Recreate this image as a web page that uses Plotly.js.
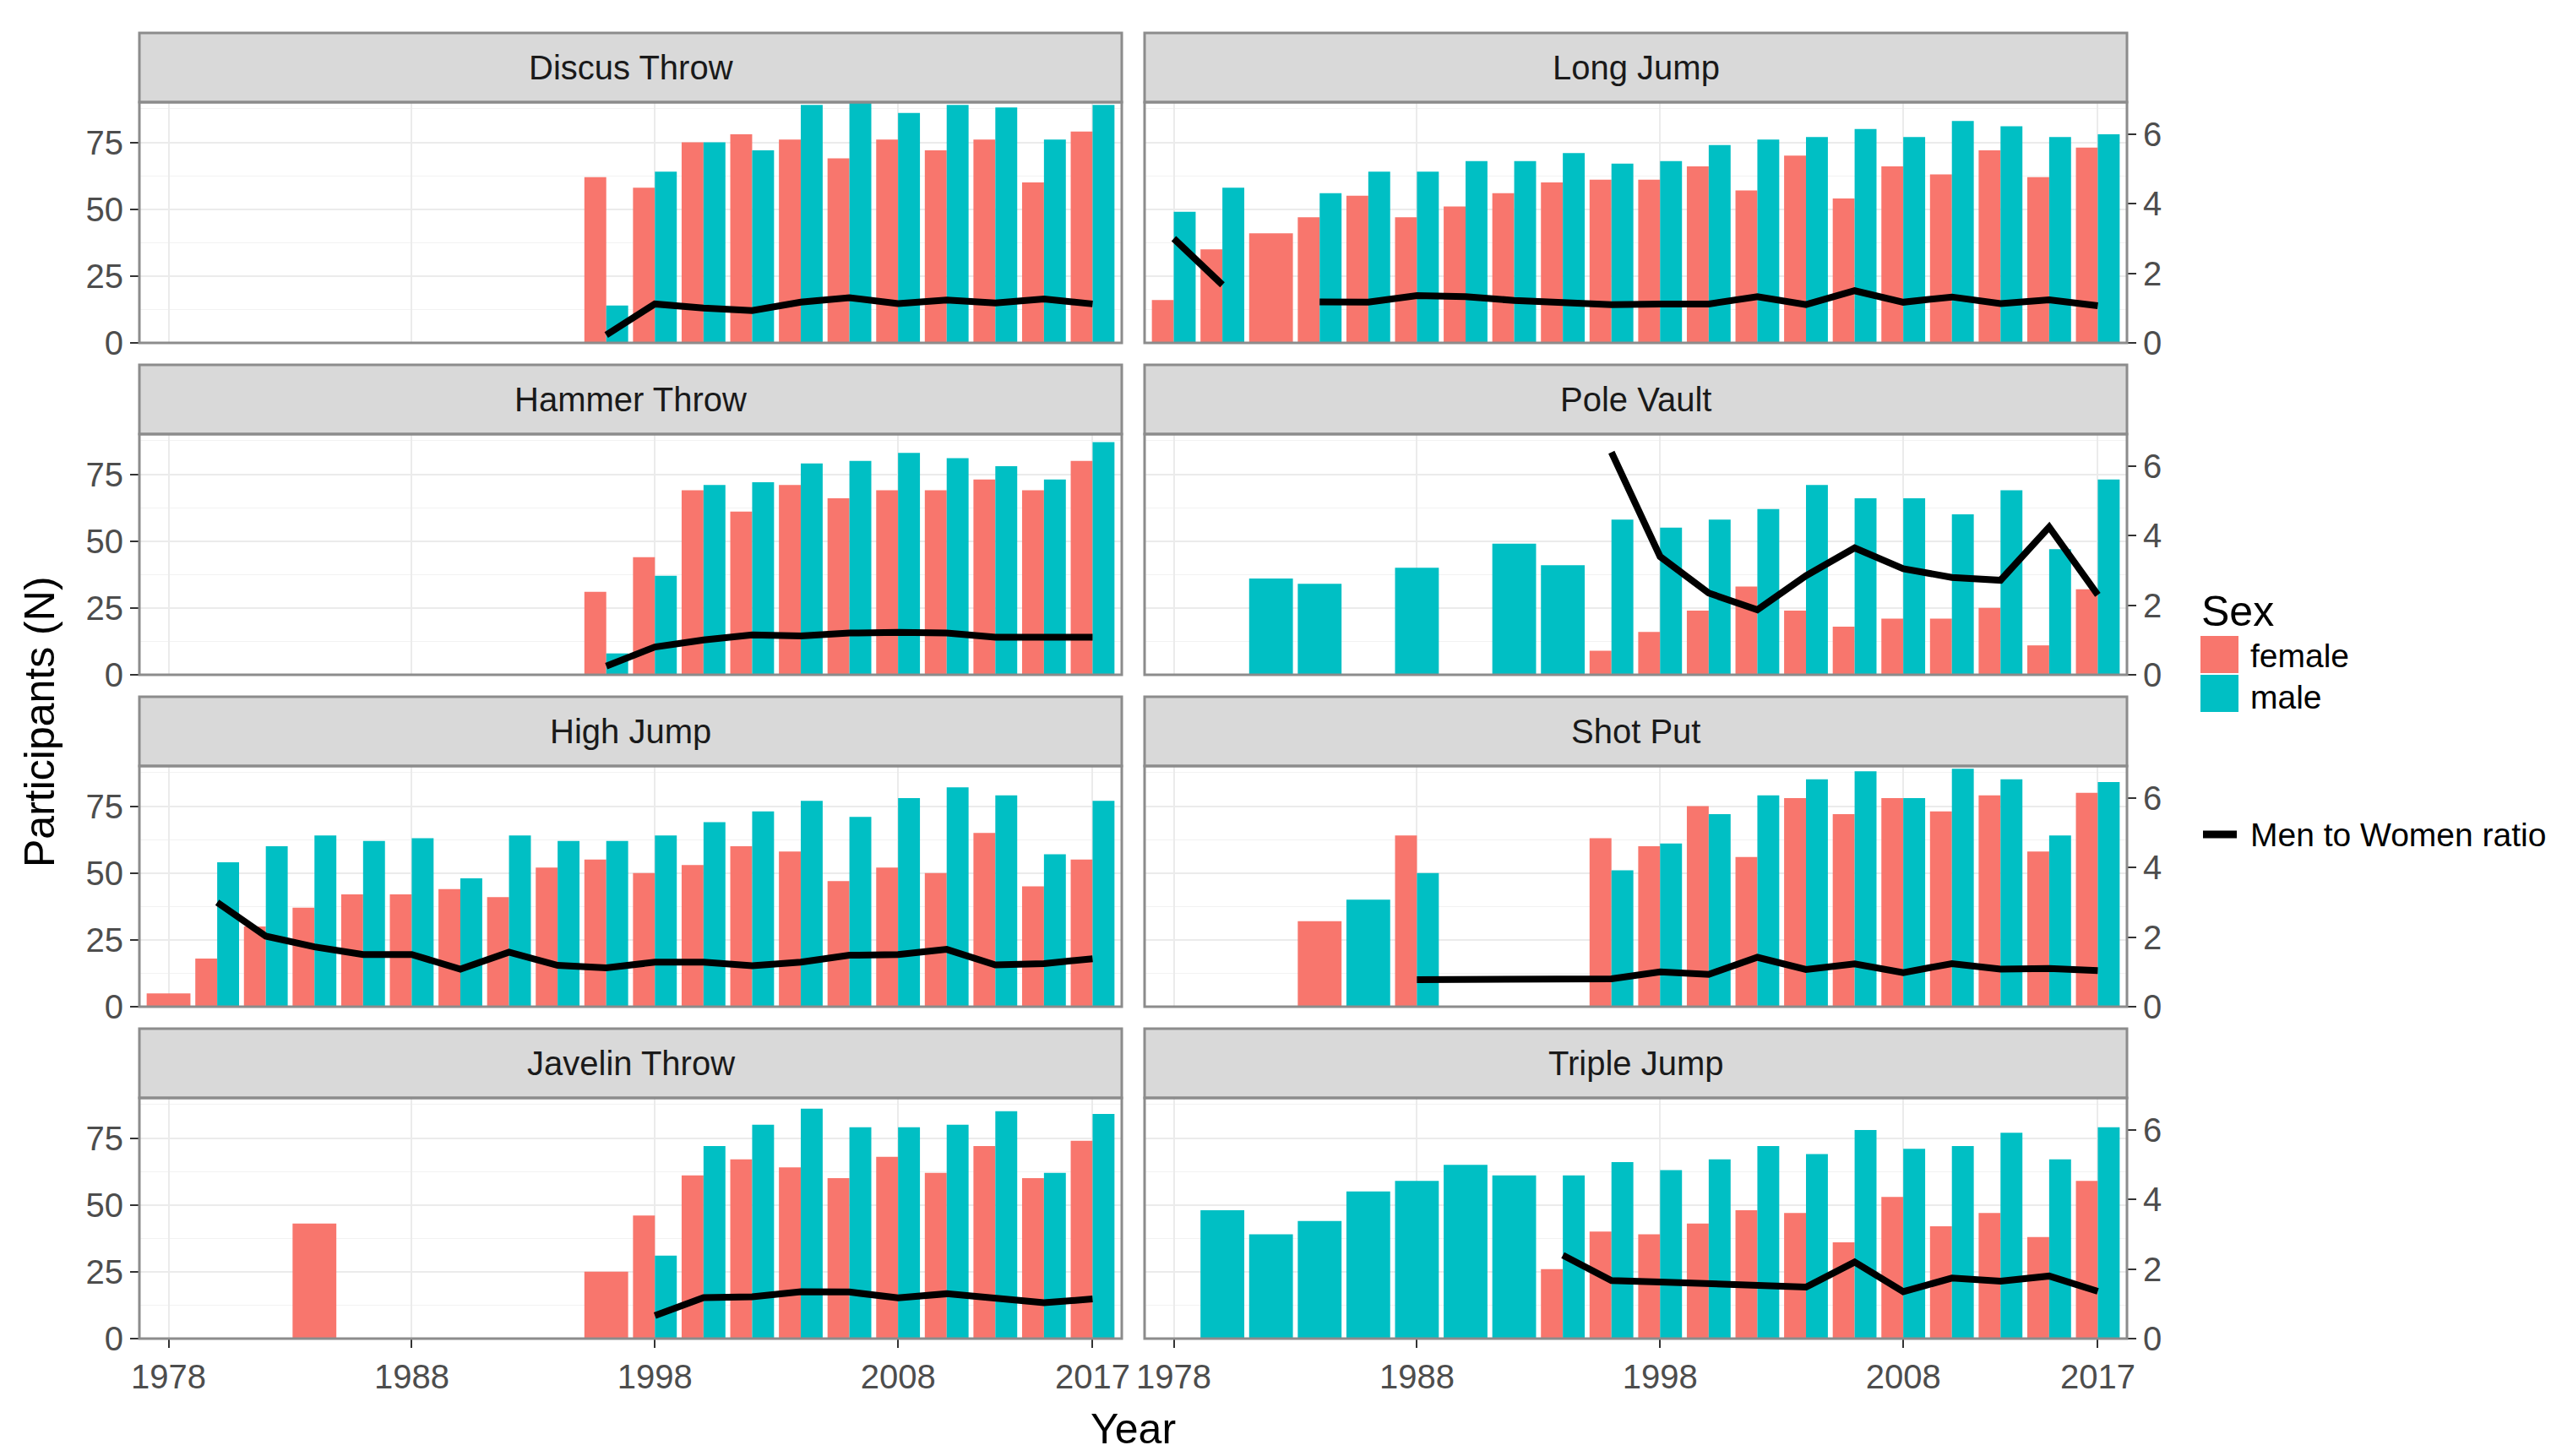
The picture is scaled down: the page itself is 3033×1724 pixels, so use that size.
<!DOCTYPE html>
<html>
<head>
<meta charset="utf-8">
<script src="https://cdn.plot.ly/plotly-3.0.1.min.js"></script>
<style>
body { margin: 0; background: #fff; }
#plot { width: 3033px; height: 1724px; }
</style>
</head>
<body>
<div id="plot"></div>
<script>
const N = null

// factor levels on the x axis (one slot per season)
const years = ['1978','1980','1982','1984','1986','1988','1990','1992','1994','1996',
               '1998','2000','2002','2004','2006','2008','2010','2012','2014','2017']
const yearTicks = ['1978','1988','1998','2008','2017']

// facet order (facet_wrap fills columns first)
const events = ['Discus Throw','Hammer Throw','High Jump','Javelin Throw',
                'Long Jump','Pole Vault','Shot Put','Triple Jump']

const discusFemale  = [N,N,N,N,N,N,N,N,N,62,58,75,78,76,69,76,72,76,60,79]
const discusMale    = [N,N,N,N,N,N,N,N,N,14,64,75,72,89,90,86,89,88,76,89]
const discusRatio   = [N,N,N,N,N,N,N,N,N,0.23,1.12,1.0,0.93,1.17,1.3,1.13,1.23,1.15,1.26,1.12]

const hammerFemale  = [N,N,N,N,N,N,N,N,N,31,44,69,61,71,66,69,69,73,69,80]
const hammerMale    = [N,N,N,N,N,N,N,N,N,8,37,71,72,79,80,83,81,78,73,87]
const hammerRatio   = [N,N,N,N,N,N,N,N,N,0.25,0.8,1.0,1.15,1.12,1.2,1.22,1.2,1.08,1.07,1.08]

const highFemale    = [5,18,30,37,42,42,44,41,52,55,50,53,60,58,47,52,50,65,45,55]
const highMale      = [N,54,60,64,62,63,48,64,62,62,64,69,73,77,71,78,82,79,57,77]
const highRatio     = [N,3.0,2.03,1.72,1.5,1.5,1.08,1.57,1.19,1.12,1.28,1.28,1.18,1.28,1.48,1.5,1.65,1.2,1.24,1.38]

const javelinFemale = [N,N,N,43,N,N,N,N,N,25,46,61,67,64,60,68,62,72,60,74]
const javelinMale   = [N,N,N,N,N,N,N,N,N,N,31,72,80,86,79,79,80,85,62,84]
const javelinRatio  = [N,N,N,N,N,N,N,N,N,N,0.66,1.18,1.2,1.35,1.34,1.17,1.29,1.16,1.03,1.14]

const longFemale    = [16,35,41,47,55,47,51,56,60,61,61,66,57,70,54,66,63,72,62,73]
const longMale      = [49,58,N,56,64,64,68,68,71,67,68,74,76,77,80,77,83,81,77,78]
const longRatio     = [3.0,1.67,N,1.18,1.17,1.36,1.33,1.22,1.18,1.1,1.12,1.12,1.33,1.1,1.5,1.17,1.32,1.13,1.24,1.07]

const poleFemale    = [N,N,N,N,N,N,N,N,N,9,16,24,33,24,18,21,21,25,11,32]
const poleMale      = [N,N,36,34,N,40,N,49,41,58,55,58,62,71,66,66,60,69,47,73]
const poleRatio     = [N,N,N,N,N,N,N,N,N,6.4,3.4,2.35,1.87,2.85,3.65,3.05,2.8,2.72,4.25,2.3]

const shotFemale    = [N,N,N,32,N,64,N,N,N,63,60,75,56,78,72,78,73,79,58,80]
const shotMale      = [N,N,N,N,40,50,N,N,N,51,61,72,79,85,88,78,89,85,64,84]
const shotRatio     = [N,N,N,N,N,0.78,N,N,N,0.8,1.0,0.93,1.42,1.07,1.23,0.98,1.24,1.08,1.1,1.04]

const tripleFemale  = [N,N,N,N,N,N,N,N,26,40,39,43,48,47,36,53,42,47,38,59]
const tripleMale    = [N,48,39,44,55,59,65,61,61,66,63,67,72,69,78,71,72,77,67,79]
const tripleRatio   = [N,N,N,N,N,N,N,N,2.4,1.67,1.63,1.58,1.52,1.48,2.2,1.35,1.74,1.65,1.8,1.36]

const femaleData = [discusFemale, hammerFemale, highFemale, javelinFemale, longFemale, poleFemale, shotFemale, tripleFemale]
const maleData   = [discusMale, hammerMale, highMale, javelinMale, longMale, poleMale, shotMale, tripleMale]
const ratioData  = [discusRatio, hammerRatio, highRatio, javelinRatio, longRatio, poleRatio, shotRatio, tripleRatio]

const ratioScale = 13   // sec_axis(~ . / 13)
const yMax = 90

const W = 3033, H = 1724
const colX = [[165, 1328], [1355, 2518]]
const rowTop = [39, 432, 825, 1218]
const stripH = 82, panelH = 285

const FONT = 'Liberation Sans, Arial, sans-serif'
const female_col = '#F8766D'
const male_col = '#00BFC4'

function px(x){ return x / W }
function py(y){ return 1 - y / H }

// ggplot style dodge: two bars share a slot, a lone bar takes the whole slot
function dodge(female, male){
    let out = {fx: [], fw: [], mx: [], mw: []}
    for (let i = 0; i < years.length; i++) {
        let both = female[i] != null && male[i] != null
        out.fx.push(both ? i - 0.225 : i)
        out.fw.push(both ? 0.45 : 0.9)
        out.mx.push(both ? i + 0.225 : i)
        out.mw.push(both ? 0.45 : 0.9)
    }
    return out
}

function label(x, y, text, size, opts){
    let a = {
        xref: 'paper', yref: 'paper', x: px(x), y: py(y),
        xanchor: 'center', yanchor: 'middle',
        text: text, showarrow: false,
        font: {size: size, color: '#000'}
    }
    return Object.assign(a, opts || {})
}

let traces = []
let layout = {
    width: W, height: H,
    margin: {l: 0, r: 0, t: 0, b: 0},
    paper_bgcolor: '#fff',
    plot_bgcolor: '#fff',
    showlegend: false,
    barmode: 'overlay',
    font: {family: FONT, size: 40, color: '#4d4d4d'},
    shapes: [],
    annotations: []
}

for (let p = 0; p < events.length; p++) {
    let c = Math.floor(p / 4)
    let r = p % 4
    let xid = p == 0 ? 'x' : 'x' + (p + 1)
    let ybar = p == 0 ? 'y' : 'y' + (2 * p + 1)
    let yrat = 'y' + (2 * p + 2)
    let xkey = p == 0 ? 'xaxis' : 'xaxis' + (p + 1)
    let ybarkey = p == 0 ? 'yaxis' : 'yaxis' + (2 * p + 1)
    let yratkey = 'yaxis' + (2 * p + 2)

    let top = rowTop[r] + stripH
    let bottom = top + panelH
    let x0 = colX[c][0], x1 = colX[c][1]

    let d = dodge(femaleData[p], maleData[p])
    traces.push({
        type: 'bar', x: d.fx, y: femaleData[p], width: d.fw,
        marker: {color: female_col, line: {width: 0}},
        xaxis: xid, yaxis: ybar, name: 'female'
    })
    traces.push({
        type: 'bar', x: d.mx, y: maleData[p], width: d.mw,
        marker: {color: male_col, line: {width: 0}},
        xaxis: xid, yaxis: ybar, name: 'male'
    })

    // ratio line: skip seasons with no rows at all, break where the ratio is missing
    let lx = [], ly = []
    for (let i = 0; i < years.length; i++) {
        if (femaleData[p][i] == null && maleData[p][i] == null) continue
        lx.push(i)
        ly.push(ratioData[p][i])
    }
    traces.push({
        type: 'scatter', mode: 'lines', x: lx, y: ly,
        line: {color: '#000', width: 8},
        connectgaps: false,
        xaxis: xid, yaxis: yrat, name: 'Men to Women ratio'
    })

    let bottomRow = r == 3
    layout[xkey] = {
        domain: [px(x0), px(x1)],
        anchor: ybar,
        range: [-0.6, years.length - 0.4],
        tickmode: 'array',
        tickvals: [0, 5, 10, 15, 19],
        ticktext: yearTicks,
        showticklabels: bottomRow,
        ticks: bottomRow ? 'outside' : '',
        ticklen: 10, tickwidth: 2, tickcolor: '#333',
        tickfont: {size: 40, color: '#4d4d4d'},
        showgrid: true, gridcolor: '#ebebeb', gridwidth: 2,
        zeroline: false, showline: false, fixedrange: true
    }
    layout[ybarkey] = {
        domain: [py(bottom), py(top)],
        anchor: xid,
        range: [0, yMax],
        tickmode: 'array',
        tickvals: [0, 25, 50, 75],
        showticklabels: c == 0,
        ticks: c == 0 ? 'outside' : '',
        ticklen: 10, tickwidth: 2, tickcolor: '#333',
        tickfont: {size: 40, color: '#4d4d4d'},
        showgrid: true, gridcolor: '#ebebeb', gridwidth: 2,
        minor: {tickmode: 'array', tickvals: [12.5, 37.5, 62.5, 87.5], showgrid: true,
                gridcolor: '#f2f2f2', gridwidth: 1, ticks: ''},
        zeroline: false, showline: false, fixedrange: true
    }
    layout[yratkey] = {
        overlaying: ybar,
        anchor: xid,
        side: 'right',
        range: [0, yMax / ratioScale],
        tickmode: 'array',
        tickvals: [0, 2, 4, 6],
        showticklabels: c == 1,
        ticks: c == 1 ? 'outside' : '',
        ticklen: 10, tickwidth: 2, tickcolor: '#333',
        tickfont: {size: 40, color: '#4d4d4d'},
        showgrid: false, zeroline: false, showline: false, fixedrange: true
    }

    // facet strip
    layout.shapes.push({
        type: 'rect', xref: 'paper', yref: 'paper',
        x0: px(x0), x1: px(x1), y0: py(top), y1: py(rowTop[r]),
        fillcolor: '#d9d9d9', line: {color: '#8c8c8c', width: 3}
    })
    layout.annotations.push(label((x0 + x1) / 2, rowTop[r] + stripH / 2, events[p], 40,
        {font: {size: 40, color: '#1a1a1a'}}))
    // panel border
    layout.shapes.push({
        type: 'rect', xref: 'paper', yref: 'paper', layer: 'above',
        x0: px(x0), x1: px(x1), y0: py(bottom), y1: py(top),
        fillcolor: 'rgba(0,0,0,0)', line: {color: '#8c8c8c', width: 3}
    })
}

// axis titles
layout.annotations.push(label(1341, 1692, 'Year', 50))
layout.annotations.push(label(47, 855, 'Participants (N)', 50, {textangle: -90}))

// legend
layout.annotations.push(label(2604, 724, 'Sex', 50, {xanchor: 'left'}))
layout.shapes.push({
    type: 'rect', xref: 'paper', yref: 'paper',
    x0: px(2605), x1: px(2650), y0: py(797), y1: py(753),
    fillcolor: female_col, line: {width: 0}
})
layout.shapes.push({
    type: 'rect', xref: 'paper', yref: 'paper',
    x0: px(2605), x1: px(2650), y0: py(843), y1: py(799),
    fillcolor: male_col, line: {width: 0}
})
layout.annotations.push(label(2662, 776, 'female', 39, {xanchor: 'left'}))
layout.annotations.push(label(2662, 826, 'male', 39, {xanchor: 'left'}))
layout.shapes.push({
    type: 'line', xref: 'paper', yref: 'paper',
    x0: px(2608), x1: px(2648), y0: py(988), y1: py(988),
    line: {color: '#000', width: 9}
})
layout.annotations.push(label(2662, 988, 'Men to Women ratio', 39, {xanchor: 'left'}))

Plotly.newPlot('plot', traces, layout, {staticPlot: true, displayModeBar: false})
</script>
</body>
</html>
